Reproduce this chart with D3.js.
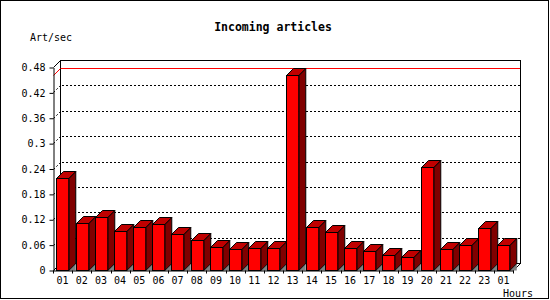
<!DOCTYPE html>
<html>
<head>
<meta charset="utf-8">
<script src="https://cdn.jsdelivr.net/npm/d3@7"></script>
<style>
  body { margin: 0; background: #fff; }
  svg { display: block; }
</style>
</head>
<body>
<svg id="chart"></svg>
<script>
// Data
const hours = ["01","02","03","04","05","06","07","08","09","10","11","12",
               "13","14","15","16","17","18","19","20","21","22","23","01"];
const artPerSec = [0.217, 0.110, 0.125, 0.092, 0.101, 0.108, 0.084, 0.071,
                   0.054, 0.049, 0.051, 0.051, 0.462, 0.101, 0.089, 0.051,
                   0.044, 0.035, 0.030, 0.243, 0.049, 0.058, 0.099, 0.058];
const yTicks = [0, 0.06, 0.12, 0.18, 0.24, 0.3, 0.36, 0.42, 0.48];
const yTickLabels = ["0", "0.06", "0.12", "0.18", "0.24", "0.3", "0.36", "0.42", "0.48"];

// Dimensions
const width = 550;
const height = 300;
const plot = {left: 53, right: 513, top: 67, bottom: 270};
const depth = 7;
const mono = "'DejaVu Sans Mono', 'Liberation Mono', monospace";

const svg = d3.select("#chart")
    .attr("width", width)
    .attr("height", height)
    .style("background", "#fff");

// Outer frame
svg.append("rect")
    .attr("x", 0.5).attr("y", 0.5)
    .attr("width", 548).attr("height", 298)
    .attr("fill", "none")
    .attr("stroke", "black");

// Scales
const x = d3.scaleBand()
    .domain(d3.range(hours.length))
    .range([plot.left, plot.right])
    .paddingInner(0.36)
    .paddingOuter(0.18);

const y = d3.scaleLinear()
    .domain([0, 0.48])
    .range([plot.bottom, plot.top]);

// Back wall
svg.append("rect")
    .attr("x", plot.left + depth + 0.5)
    .attr("y", plot.top - depth + 0.5)
    .attr("width", plot.right - plot.left)
    .attr("height", plot.bottom - plot.top)
    .attr("fill", "none")
    .attr("stroke", "black");

// Dotted grid lines on the back wall and the left wall
const grid = svg.append("g")
    .attr("stroke", "black")
    .attr("stroke-dasharray", "2,2")
    .attr("fill", "none");

yTicks.slice(1, -1).forEach(t => {
    const yy = Math.round(y(t)) + 0.5;
    grid.append("line")
        .attr("x1", plot.left + depth + 2).attr("x2", plot.right + depth)
        .attr("y1", yy - depth).attr("y2", yy - depth);
    grid.append("line")
        .attr("x1", plot.left + 0.5).attr("x2", plot.left + depth + 0.5)
        .attr("y1", yy).attr("y2", yy - depth);
});

// Max line in red
const maxVal = d3.max(artPerSec);
const yMax = Math.round(y(maxVal)) + 0.5;
svg.append("line")
    .attr("x1", plot.left + depth + 1).attr("x2", plot.right + depth)
    .attr("y1", yMax - depth).attr("y2", yMax - depth)
    .attr("stroke", "red");
svg.append("line")
    .attr("x1", plot.left + 0.5).attr("x2", plot.left + depth + 0.5)
    .attr("y1", yMax).attr("y2", yMax - depth)
    .attr("stroke", "red");

// Left wall edges and floor edge
svg.append("path")
    .attr("d", `M${plot.left + 0.5},${plot.top + 0.5}L${plot.left + depth + 0.5},${plot.top - depth + 0.5}` +
               `M${plot.left + 0.5},${plot.bottom + 0.5}L${plot.left + depth + 0.5},${plot.bottom - depth + 0.5}` +
               `M${plot.right + 0.5},${plot.bottom + 0.5}L${plot.right + depth + 0.5},${plot.bottom - depth + 0.5}`)
    .attr("stroke", "black")
    .attr("fill", "none");

// Bars
const bw = x.bandwidth();
const base = plot.bottom;
artPerSec.forEach((v, i) => {
    const bx = Math.round(x(i)) + 0.5;
    const yt = Math.round(y(v)) + 0.5;
    const g = svg.append("g")
        .attr("stroke", "black")
        .attr("stroke-linejoin", "miter");

    // floor shadow
    g.append("path")
        .attr("d", `M${bx + bw},${base + 0.5}L${bx + bw + depth},${base + 0.5 - depth}L${bx + bw + depth},${base + 0.5}Z`)
        .attr("fill", "#808080")
        .attr("stroke", "none");

    // side
    g.append("path")
        .attr("d", `M${bx + bw},${yt}L${bx + bw + depth},${yt - depth}L${bx + bw + depth},${base + 0.5 - depth}L${bx + bw},${base + 0.5}Z`)
        .attr("fill", "#800000");

    // top
    g.append("path")
        .attr("d", `M${bx},${yt}L${bx + depth},${yt - depth}L${bx + bw + depth},${yt - depth}L${bx + bw},${yt}Z`)
        .attr("fill", "#c00000");

    // front
    g.append("rect")
        .attr("x", bx).attr("y", yt)
        .attr("width", bw).attr("height", base + 0.5 - yt)
        .attr("fill", "#ff0000");
});

// Y axis
const yAxis = svg.append("g")
    .attr("transform", `translate(${plot.left + 0.5},0.5)`)
    .call(d3.axisLeft(y)
        .tickValues(yTicks)
        .tickFormat((d, i) => yTickLabels[i])
        .tickSize(4)
        .tickSizeOuter(0)
        .tickPadding(4));
yAxis.selectAll("text")
    .style("font-family", mono)
    .style("font-size", "10px")
    .attr("fill", "black");
yAxis.selectAll("line, path").attr("stroke", "black");

// X axis: labels centred in each slot, ticks on slot boundaries
const xAxis = svg.append("g")
    .attr("transform", `translate(0,${plot.bottom + 0.5})`)
    .call(d3.axisBottom(x)
        .tickFormat(i => hours[i])
        .tickSize(0)
        .tickPadding(6));
xAxis.selectAll("text")
    .style("font-family", mono)
    .style("font-size", "10px")
    .attr("fill", "black");
xAxis.select(".domain").attr("stroke", "black");

const step = x.step();
d3.range(hours.length + 1).forEach(i => {
    const tx = Math.round(plot.left + i * step) + 0.5;
    xAxis.append("line")
        .attr("x1", tx).attr("x2", tx)
        .attr("y1", 0).attr("y2", 3)
        .attr("stroke", "black");
});

// Title and axis labels
svg.append("text")
    .attr("x", 273)
    .attr("y", 31)
    .style("text-anchor", "middle")
    .style("font-family", mono)
    .style("font-size", "11.5px")
    .style("font-weight", "bold")
    .text("Incoming articles");

svg.append("text")
    .attr("x", 30)
    .attr("y", 40.5)
    .style("font-family", mono)
    .style("font-size", "10px")
    .text("Art/sec");

svg.append("text")
    .attr("x", 503)
    .attr("y", 296.5)
    .style("font-family", mono)
    .style("font-size", "10px")
    .text("Hours");
</script>
</body>
</html>
